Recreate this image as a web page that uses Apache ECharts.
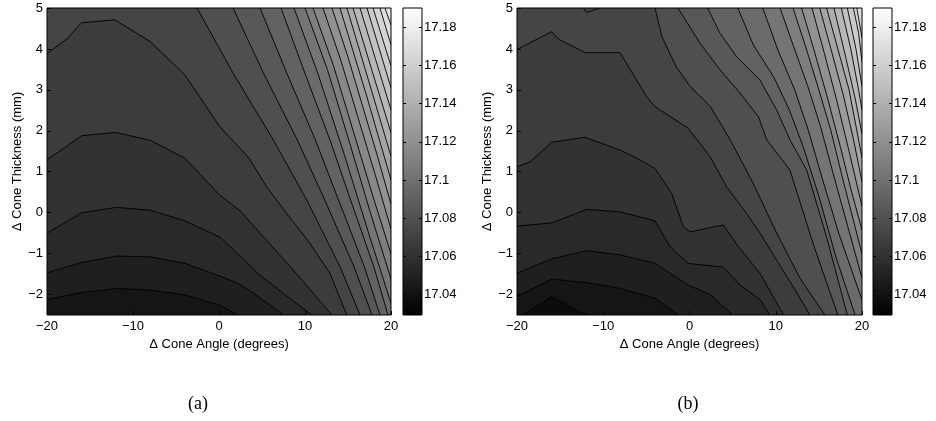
<!DOCTYPE html>
<html>
<head>
<meta charset="utf-8">
<title>Cone contours</title>
<script src="https://cdn.jsdelivr.net/npm/echarts@6/dist/echarts.min.js"></script>
<style>
  html, body { margin: 0; padding: 0; background: #fff; }
  #chart { width: 936px; height: 421px; }
</style>
</head>
<body>
<div id="chart"></div>
<script>
// colour bar range and ticks (same for both panels)
const barRange = [17.0295, 17.19];
const barTicks = [17.04, 17.06, 17.08, 17.1, 17.12, 17.14, 17.16, 17.18];
const xTicks = [-20, -10, 0, 10, 20];
const yTicks = [-2, -1, 0, 1, 2, 3, 4, 5];

// contour level values, index = level number
const levelValues = [17.037, 17.043, 17.049, 17.055, 17.061, 17.067, 17.073, 17.079,
  17.085, 17.091, 17.097, 17.103, 17.109, 17.115, 17.121, 17.127, 17.133, 17.139,
  17.145, 17.151, 17.157, 17.163, 17.169, 17.175];

// panel (a): level of each contour line and its path [angle, thickness]
const levelsA = [2, 3, 4, 5, 6, 7, 8, 9, 10, 11, 12, 13, 14, 15, 16, 17, 18, 19, 20, 21, 22, 23];
const pathsA = [
  [[-20, -2.12], [-15.97, -1.95], [-11.9, -1.85], [-8.02, -1.89], [-3.95, -2.01], [0.12, -2.26], [2.2, -2.5]],
  [[-20, -1.47], [-15.97, -1.22], [-11.9, -1.06], [-8.02, -1.08], [-3.95, -1.24], [0.12, -1.55], [2.44, -1.75], [4.57, -2.05], [7.48, -2.5]],
  [[-20, -0.5], [-17.7, -0.22], [-15.97, 0], [-11.9, 0.13], [-8.02, 0.06], [-3.95, -0.2], [0.12, -0.6], [2.44, -1.05], [4.6, -1.5], [7.48, -1.97], [10.78, -2.5]],
  [[-20, 1.29], [-15.97, 1.88], [-12.1, 1.96], [-8.02, 1.77], [-3.95, 1.33], [0.12, 0.42], [2.44, 0.05], [5.15, -0.59], [8.64, -1.4], [10.97, -1.97], [13.1, -2.5]],
  [[-20, 3.89], [-17.7, 4.24], [-15.97, 4.64], [-12.1, 4.71], [-8.0, 4.18], [-3.95, 3.36], [0.1, 2.1], [3.5, 1.33], [5.55, 0.63], [7.87, -0.02], [10.58, -0.75], [12.9, -1.48], [14.85, -2.5]],
  [[-2.56, 5], [1.66, 3.4], [6.31, 1.78], [10.2, 0.31], [14.07, -1.32], [16.4, -2.5]],
  [[1.63, 5], [5.2, 3.4], [9.1, 1.78], [12.3, 0.31], [15.7, -1.32], [17.79, -2.5]],
  [[4.77, 5], [7.9, 3.4], [11.2, 1.78], [13.9, 0.31], [16.9, -1.32], [18.72, -2.5]],
  [[7.21, 5], [10.0, 3.4], [12.9, 1.78], [15.3, 0.31], [18.0, -1.32], [19.65, -2.5]],
  [[8.72, 5], [11.5, 3.4], [14.6, 1.4], [17.4, -0.5], [20, -2.21]],
  [[10.0, 5], [12.6, 3.5], [15.2, 1.7], [17.6, 0.0], [20, -1.62]],
  [[10.93, 5], [13.3, 3.6], [15.6, 2.0], [17.9, 0.4], [20, -1.01]],
  [[12.09, 5], [14.2, 3.7], [16.2, 2.3], [18.2, 0.9], [20, -0.4]],
  [[13.14, 5], [15.0, 3.8], [16.7, 2.6], [18.4, 1.4], [20, 0.21]],
  [[14.07, 5], [17.1, 2.9], [20, 0.8]],
  [[14.88, 5], [17.43, 3.2], [20, 1.38]],
  [[15.58, 5], [17.75, 3.5], [20, 1.95]],
  [[16.4, 5], [18.2, 3.75], [20, 2.51]],
  [[17.21, 5], [20, 3.05]],
  [[17.91, 5], [20, 3.58]],
  [[18.72, 5], [20, 4.1]],
  [[19.3, 5], [20, 4.58]]
];

// panel (b)
const levelsB = [1, 2, 3, 4, 5, 6, 7, 8, 9, 10, 11, 12, 13, 14, 15, 16, 17, 18, 19, 20, 21, 22];
const pathsB = [
  [[-19.3, -2.5], [-15.98, -2.05], [-12.8, -2.42], [-11.8, -2.5]],
  [[-20, -2.05], [-15.98, -1.62], [-11.9, -1.71], [-8.06, -1.85], [-4.0, -2.09], [-1.3, -2.5]],
  [[-20, -1.48], [-15.98, -1.13], [-11.9, -0.93], [-8.06, -1.03], [-4.0, -1.24], [-0.14, -1.77], [2.4, -2.0], [5.0, -2.5]],
  [[-20, -0.33], [-15.98, -0.25], [-11.9, 0.08], [-8.06, 0.02], [-4.0, -0.2], [-2.26, -0.83], [-0.14, -1.24], [3.92, -1.33], [5.86, -1.77], [8.17, -2.12], [9.3, -2.5]],
  [[-20, 1.12], [-18.49, 1.24], [-15.98, 1.72], [-12.1, 1.84], [-8.06, 1.53], [-5.74, 1.29], [-4.0, 1.08], [-2.06, 0.47], [-0.72, -0.34], [0.06, -0.47], [3.92, -0.3], [5.66, -0.83], [8.17, -1.48], [10.9, -2.5]],
  [[-20, 3.99], [-15.98, 4.42], [-15.2, 4.24], [-12.1, 3.91], [-8.06, 3.91], [-4.96, 2.83], [-4.0, 2.59], [-0.14, 2.06], [2.38, 1.37], [4.31, 0.63], [6.63, -0.02], [8.17, -0.5], [10.1, -1.16], [12.03, -1.81], [13.97, -2.5]],
  [[-4.0, 5], [-3.2, 4.3], [-1.5, 3.55], [0.1, 3.08], [2.4, 2.6], [4.8, 1.75], [7.3, 0.75], [10.0, -0.45], [12.8, -1.6], [15.7, -2.5]],
  [[-1.33, 5], [1.22, 4.14], [3.54, 3.49], [5.86, 2.92], [8.0, 2.34], [8.96, 1.78], [11.65, 1.04], [14.4, -0.8], [17.2, -2.5]],
  [[2.1, 5], [3.54, 4.38], [5.47, 3.81], [8.17, 3.24], [10.1, 2.51], [11.65, 1.78], [13.59, 1.04], [15.9, -0.6], [18.3, -2.5]],
  [[5.6, 5], [7.4, 4.1], [9.8, 3.3], [11.6, 2.5], [13.2, 1.6], [15.0, 0.4], [17.0, -1.1], [19.2, -2.5]],
  [[8.5, 5], [10.2, 4.0], [12.2, 3.0], [13.8, 2.0], [15.3, 0.9], [17.3, -0.5], [20, -2.13]],
  [[10.5, 5], [12.0, 4.1], [13.7, 3.1], [15.2, 2.1], [16.6, 1.0], [18.3, -0.3], [20, -1.6]],
  [[12.0, 5], [13.4, 4.1], [15.0, 3.0], [16.4, 2.0], [17.8, 0.8], [20, -1.01]],
  [[13.0, 5], [14.4, 4.0], [16.0, 2.8], [17.5, 1.6], [18.8, 0.5], [20, -0.42]],
  [[14.2, 5], [15.5, 4.0], [17.0, 2.8], [18.5, 1.5], [20, 0.16]],
  [[15.1, 5], [16.4, 4.0], [17.8, 2.9], [19.0, 1.8], [20, 0.75]],
  [[15.9, 5], [17.2, 4.0], [18.5, 3.0], [20, 1.34]],
  [[16.75, 5], [18.0, 3.9], [19.2, 2.8], [20, 1.92]],
  [[17.6, 5], [18.7, 4.0], [19.6, 3.0], [20, 2.51]],
  [[18.3, 5], [19.3, 4.0], [20, 3.09]],
  [[19.0, 5], [19.6, 4.4], [20, 3.68]],
  [[19.4, 5], [20, 4.27]]
];
// tiny closed bit touching the top edge of (b), drawn as a line only
const sliverB = [[-12.31, 5], [-11.92, 4.89], [-10.38, 5]];

const X0 = -20, X1 = 20, Y0 = -2.5, Y1 = 5;
const corners = [[X0, Y0], [X0, Y1], [X1, Y1], [X1, Y0]];
const FONT = '"Liberation Sans", Arial, Helvetica, sans-serif';

function gray(v) {
  let t = (v - barRange[0]) / (barRange[1] - barRange[0]);
  t = Math.max(0, Math.min(1, t));
  const g = Math.round(t * 255);
  return 'rgb(' + g + ',' + g + ',' + g + ')';
}

// position of a border point, walking clockwise from the bottom-left corner
function edgeT(p) {
  const e = 1e-6;
  if (Math.abs(p[0] - X0) < e) return (p[1] - Y0) / (Y1 - Y0);
  if (Math.abs(p[1] - Y1) < e) return 1 + (p[0] - X0) / (X1 - X0);
  if (Math.abs(p[0] - X1) < e) return 2 + (Y1 - p[1]) / (Y1 - Y0);
  return 3 + (X1 - p[0]) / (X1 - X0);
}

// the low side of a contour: its path closed along the border back to the start
function lowSide(path) {
  const tE = edgeT(path[path.length - 1]);
  let tS = edgeT(path[0]);
  if (tS <= tE) tS += 4;
  const out = path.slice();
  for (let c = Math.floor(tE) + 1; c < tS; c++) out.push(corners[c % 4]);
  return out;
}

function fillPolys(levels, paths, topLevel) {
  const polys = [{ pts: corners.slice(), color: gray(levelValues[topLevel]) }];
  const order = levels.map((lv, i) => i).sort((a, b) => levels[b] - levels[a]);
  order.forEach(i => {
    polys.push({ pts: lowSide(paths[i]), color: gray(levelValues[levels[i] - 1]) });
  });
  return polys;
}

const minus = v => String(v).replace('-', '\u2212');

function panelSeries(k, polys, lines) {
  return [
    {
      type: 'custom', xAxisIndex: k, yAxisIndex: k, clip: true, silent: true, z: 1,
      data: polys.map(p => p.pts[0]),
      renderItem: (params, api) => ({
        type: 'polygon',
        shape: { points: polys[params.dataIndex].pts.map(p => api.coord(p)) },
        style: { fill: polys[params.dataIndex].color, stroke: polys[params.dataIndex].color, lineWidth: 0.3 }
      })
    },
    {
      type: 'custom', xAxisIndex: k, yAxisIndex: k, clip: true, silent: true, z: 2,
      data: lines.map(l => l[0]),
      renderItem: (params, api) => ({
        type: 'polyline',
        shape: { points: lines[params.dataIndex].map(p => api.coord(p)) },
        style: { fill: null, stroke: '#000', lineWidth: 0.9 }
      })
    },
    {
      type: 'custom', xAxisIndex: k, yAxisIndex: k, silent: true, z: 3,
      data: [[0, 0]],
      renderItem: (params, api) => {
        const a = api.coord([X0, Y1]), b = api.coord([X1, Y0]);
        return { type: 'rect', shape: { x: a[0], y: a[1], width: b[0] - a[0], height: b[1] - a[1] },
          style: { fill: null, stroke: '#000', lineWidth: 1 } };
      }
    }
  ];
}

function barSeries(k) {
  return {
    type: 'custom', xAxisIndex: 2 + k, yAxisIndex: 2 + 2 * k, silent: true, z: 2,
    data: [[0.5, 17.1]],
    renderItem: (params, api) => {
      const a = api.coord([0, barRange[1]]), b = api.coord([1, barRange[0]]);
      return { type: 'rect', shape: { x: a[0], y: a[1], width: b[0] - a[0], height: b[1] - a[1] },
        style: {
          fill: new echarts.graphic.LinearGradient(0, 0, 0, 1, [{ offset: 0, color: '#fff' }, { offset: 1, color: '#000' }]),
          stroke: '#000', lineWidth: 1
        } };
    }
  };
}

const mainGrids = [{ left: 47, top: 8, width: 344, height: 307 }, { left: 517, top: 8, width: 345, height: 307 }];
const barGrids = [{ left: 403, top: 8, width: 19, height: 307 }, { left: 873, top: 8, width: 19, height: 307 }];

const xAxes = [], yAxes = [];
[0, 1].forEach(k => {
  xAxes.push({
    gridIndex: k, type: 'value', min: X0, max: X1, interval: 10, z: 5,
    axisLine: { show: false, onZero: false }, splitLine: { show: false },
    axisTick: { inside: true, length: 4, lineStyle: { color: '#000' } },
    axisLabel: { color: '#000', fontSize: 13, fontFamily: FONT, margin: 5, formatter: minus },
    name: '\u0394 Cone Angle (degrees)', nameLocation: 'middle', nameGap: 18,
    nameTextStyle: { color: '#000', fontSize: 13, fontFamily: FONT }
  });
  yAxes.push({
    gridIndex: k, type: 'value', min: Y0, max: Y1, z: 5,
    axisLine: { show: false, onZero: false }, splitLine: { show: false },
    axisTick: { inside: true, length: 4, customValues: yTicks, lineStyle: { color: '#000' } },
    axisLabel: { color: '#000', fontSize: 13, fontFamily: FONT, margin: 4, customValues: yTicks, formatter: minus },
    name: '\u0394 Cone Thickness (mm)', nameLocation: 'middle', nameGap: 22,
    nameTextStyle: { color: '#000', fontSize: 13, fontFamily: FONT }
  });
});
[0, 1].forEach(k => {
  xAxes.push({ gridIndex: 2 + k, type: 'value', min: 0, max: 1, show: false });
  ['left', 'right'].forEach(side => {
    yAxes.push({
      gridIndex: 2 + k, type: 'value', min: barRange[0], max: barRange[1], position: side, z: 5,
      axisLine: { show: false, onZero: false }, splitLine: { show: false },
      axisTick: { inside: true, length: 3, customValues: barTicks, lineStyle: { color: '#000' } },
      axisLabel: {
        show: side === 'right', customValues: barTicks, color: '#000', fontSize: 13, fontFamily: FONT, margin: 2,
        formatter: v => String(+(+v).toFixed(2))
      }
    });
  });
});

const option = {
  animation: false,
  backgroundColor: '#fff',
  grid: mainGrids.concat(barGrids).map(g => Object.assign({ outerBoundsMode: 'none', containLabel: false }, g)),
  xAxis: xAxes,
  yAxis: yAxes,
  series: [].concat(
    panelSeries(0, fillPolys(levelsA, pathsA, 23), pathsA),
    panelSeries(1, fillPolys(levelsB, pathsB, 22), pathsB.concat([sliverB])),
    [barSeries(0), barSeries(1)]
  ),
  graphic: [
    { type: 'text', x: 198, y: 404, style: { text: '(a)', font: '18px "Liberation Serif", "DejaVu Serif", serif', fill: '#000', textAlign: 'center', textVerticalAlign: 'middle' } },
    { type: 'text', x: 688, y: 404, style: { text: '(b)', font: '18px "Liberation Serif", "DejaVu Serif", serif', fill: '#000', textAlign: 'center', textVerticalAlign: 'middle' } }
  ]
};

const chart = echarts.init(document.getElementById('chart'));
chart.setOption(option);
</script>
</body>
</html>
